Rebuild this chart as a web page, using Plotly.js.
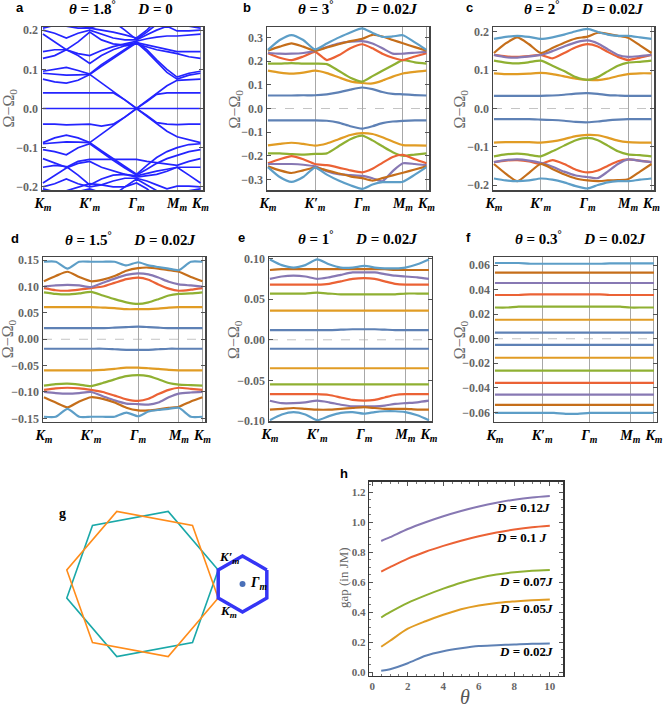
<!DOCTYPE html>
<html><head><meta charset="utf-8">
<script src="https://cdn.plot.ly/plotly-3.0.1.min.js"></script>
<style>html,body{margin:0;padding:0;background:#fff}#chart{width:669px;height:709px}</style>
</head><body><div id="chart"></div>
<script>
const W = 669, H = 709;

// ---------- k-path (Km -> K'm -> Γm -> Mm -> Km) ----------
const kPath = [0,0.25,0.5,0.75,1,1.25,1.5,1.75,2,2.22,2.43,2.65,2.866,3.12,3.366];
const kTickVals = [0,1,2,2.866,3.366];
const kTickText = ['<b><i>K<sub>m</sub></i></b>','<b><i>K′<sub>m</sub></i></b>','<b><i>Γ<sub>m</sub></i></b>','<b><i>M<sub>m</sub></i></b>','<b><i>K<sub>m</sub></i></b>'];

// ---------- panel a : θ = 1.8°, D = 0 ----------
const a_p0 = [0,0,0,0,0,0,0,0,0,0,0,0,0,0,0];
const a_p1 = [0.040,0.040,0.040,0.040,0.040,0.040,0.040,0.022,0.000,0.018,0.036,0.040,0.040,0.040,0.040];
const a_p2 = [0.075,0.068,0.065,0.072,0.087,0.066,0.044,0.022,0.000,0.020,0.040,0.058,0.072,0.074,0.075];
const a_p3 = [0.090,0.087,0.085,0.086,0.087,0.108,0.128,0.150,0.168,0.145,0.118,0.092,0.075,0.085,0.090];
const a_p4 = [0.095,0.100,0.105,0.097,0.088,0.112,0.132,0.152,0.170,0.150,0.124,0.100,0.080,0.090,0.095];
const a_p5 = [0.128,0.135,0.150,0.135,0.115,0.135,0.150,0.160,0.165,0.158,0.150,0.145,0.140,0.132,0.128];
const a_p6 = [0.145,0.150,0.150,0.170,0.195,0.175,0.165,0.162,0.168,0.162,0.155,0.150,0.145,0.145,0.145];
const a_p7 = [0.190,0.170,0.150,0.140,0.135,0.148,0.158,0.165,0.172,0.178,0.182,0.185,0.185,0.188,0.190];
const a_p8 = [0.200,0.192,0.180,0.192,0.200,0.190,0.180,0.175,0.175,0.188,0.200,0.210,0.198,0.198,0.200];
const a_p9 = [0.205,0.212,0.220,0.212,0.205,0.215,0.222,0.200,0.176,0.195,0.215,0.232,0.215,0.210,0.205];
const a_p10 = [0.230,0.225,0.210,0.205,0.205,0.200,0.195,0.188,0.180,0.200,0.225,0.240,0.230,0.230,0.230];
const a_n1 = [-0.040,-0.040,-0.042,-0.041,-0.040,-0.045,-0.040,-0.022,0.000,-0.018,-0.036,-0.040,-0.041,-0.040,-0.040];
const a_n2 = [-0.087,-0.075,-0.068,-0.075,-0.087,-0.066,-0.044,-0.022,0.000,-0.020,-0.040,-0.058,-0.072,-0.080,-0.087];
const a_n3 = [-0.090,-0.088,-0.085,-0.086,-0.087,-0.108,-0.128,-0.150,-0.168,-0.145,-0.125,-0.110,-0.100,-0.092,-0.090];
const a_n4 = [-0.105,-0.110,-0.118,-0.100,-0.090,-0.112,-0.132,-0.152,-0.170,-0.155,-0.140,-0.128,-0.120,-0.110,-0.105];
const a_n5 = [-0.128,-0.138,-0.150,-0.135,-0.130,-0.130,-0.130,-0.130,-0.130,-0.135,-0.138,-0.142,-0.145,-0.135,-0.128];
const a_n6 = [-0.150,-0.145,-0.148,-0.170,-0.195,-0.180,-0.170,-0.168,-0.172,-0.165,-0.160,-0.155,-0.150,-0.150,-0.150];
const a_n7 = [-0.190,-0.172,-0.152,-0.140,-0.135,-0.150,-0.160,-0.168,-0.175,-0.172,-0.168,-0.160,-0.150,-0.170,-0.190];
const a_n8 = [-0.200,-0.192,-0.180,-0.192,-0.200,-0.195,-0.185,-0.178,-0.178,-0.185,-0.195,-0.205,-0.198,-0.198,-0.200];
const a_n9 = [-0.205,-0.212,-0.220,-0.212,-0.205,-0.215,-0.222,-0.200,-0.180,-0.195,-0.210,-0.225,-0.215,-0.210,-0.205];
const a_n10 = [-0.230,-0.225,-0.210,-0.200,-0.192,-0.195,-0.200,-0.200,-0.190,-0.205,-0.225,-0.240,-0.230,-0.230,-0.230];

// ---------- panel b : θ = 3°, D = 0.02J ----------
const b_blue_p = [0.055,0.055,0.055,0.056,0.056,0.060,0.068,0.080,0.089,0.082,0.070,0.062,0.060,0.057,0.055];
const b_blue_n = [-0.050,-0.050,-0.050,-0.050,-0.050,-0.052,-0.060,-0.075,-0.085,-0.075,-0.062,-0.055,-0.052,-0.050,-0.050];
const b_orange_p = [0.160,0.152,0.148,0.152,0.160,0.150,0.132,0.115,0.108,0.106,0.118,0.135,0.148,0.155,0.160];
const b_orange_n = [-0.156,-0.150,-0.145,-0.150,-0.157,-0.148,-0.130,-0.112,-0.104,-0.108,-0.122,-0.140,-0.155,-0.156,-0.157];
const b_green_p = [0.190,0.190,0.192,0.190,0.190,0.188,0.160,0.130,0.114,0.137,0.160,0.183,0.205,0.195,0.190];
const b_green_n = [-0.190,-0.190,-0.193,-0.195,-0.192,-0.190,-0.160,-0.130,-0.115,-0.135,-0.160,-0.185,-0.200,-0.195,-0.190];
const b_red_p = [0.234,0.215,0.205,0.220,0.240,0.205,0.225,0.255,0.272,0.255,0.232,0.215,0.205,0.220,0.234];
const b_red_n = [-0.232,-0.215,-0.202,-0.215,-0.235,-0.240,-0.250,-0.262,-0.270,-0.255,-0.230,-0.205,-0.196,-0.215,-0.232];
const b_purple_p = [0.235,0.232,0.232,0.235,0.244,0.260,0.275,0.283,0.285,0.275,0.255,0.232,0.232,0.236,0.240];
const b_purple_n = [-0.235,-0.235,-0.235,-0.238,-0.245,-0.265,-0.278,-0.282,-0.285,-0.295,-0.308,-0.265,-0.232,-0.235,-0.240];
const b_brown_p = [0.245,0.262,0.276,0.262,0.245,0.258,0.272,0.285,0.295,0.312,0.305,0.290,0.276,0.260,0.245];
const b_brown_n = [-0.245,-0.262,-0.273,-0.262,-0.250,-0.262,-0.275,-0.287,-0.295,-0.305,-0.295,-0.283,-0.272,-0.258,-0.245];
const b_lb_p = [0.248,0.290,0.311,0.290,0.250,0.275,0.300,0.322,0.339,0.320,0.303,0.305,0.310,0.280,0.248];
const b_lb_n = [-0.248,-0.290,-0.311,-0.290,-0.250,-0.280,-0.305,-0.325,-0.340,-0.322,-0.312,-0.312,-0.310,-0.280,-0.248];

// ---------- panel c : θ = 2°, D = 0.02J ----------
const c_blue_p = [0.033,0.033,0.033,0.033,0.033,0.034,0.036,0.039,0.040,0.038,0.035,0.034,0.033,0.033,0.033];
const c_blue_n = [-0.028,-0.028,-0.028,-0.028,-0.029,-0.030,-0.032,-0.035,-0.036,-0.034,-0.031,-0.029,-0.028,-0.028,-0.028];
const c_orange_p = [0.092,0.090,0.090,0.091,0.093,0.090,0.084,0.078,0.075,0.074,0.078,0.085,0.090,0.092,0.092];
const c_orange_n = [-0.089,-0.088,-0.088,-0.088,-0.089,-0.086,-0.080,-0.072,-0.069,-0.070,-0.076,-0.084,-0.088,-0.089,-0.089];
const c_green_p = [0.125,0.120,0.118,0.121,0.125,0.112,0.098,0.082,0.075,0.082,0.097,0.112,0.120,0.122,0.125];
const c_green_n = [-0.125,-0.120,-0.118,-0.121,-0.125,-0.112,-0.097,-0.083,-0.077,-0.083,-0.097,-0.112,-0.120,-0.122,-0.125];
const c_red_p = [0.140,0.136,0.135,0.137,0.140,0.131,0.145,0.160,0.168,0.162,0.148,0.135,0.127,0.133,0.140];
const c_red_n = [-0.140,-0.136,-0.135,-0.138,-0.145,-0.135,-0.145,-0.160,-0.167,-0.162,-0.150,-0.138,-0.133,-0.136,-0.140];
const c_purple_p = [0.140,0.134,0.133,0.136,0.140,0.150,0.162,0.173,0.178,0.170,0.155,0.140,0.135,0.137,0.140];
const c_purple_n = [-0.140,-0.135,-0.133,-0.136,-0.142,-0.152,-0.165,-0.175,-0.179,-0.182,-0.165,-0.145,-0.133,-0.137,-0.140];
const c_brown_p = [0.145,0.170,0.186,0.168,0.145,0.158,0.172,0.183,0.188,0.198,0.195,0.190,0.185,0.165,0.145];
const c_brown_n = [-0.145,-0.170,-0.190,-0.168,-0.145,-0.158,-0.172,-0.183,-0.188,-0.190,-0.188,-0.187,-0.185,-0.165,-0.145];
const c_lb_p = [0.182,0.187,0.190,0.187,0.182,0.186,0.193,0.202,0.208,0.200,0.193,0.190,0.190,0.186,0.182];
const c_lb_n = [-0.183,-0.188,-0.190,-0.188,-0.183,-0.186,-0.193,-0.203,-0.209,-0.200,-0.193,-0.190,-0.190,-0.186,-0.183];

// ---------- panel d : θ = 1.5°, D = 0.02J ----------
const d_blue_p = [0.021,0.021,0.021,0.021,0.021,0.021,0.022,0.023,0.024,0.023,0.022,0.021,0.021,0.021,0.021];
const d_blue_n = [-0.018,-0.018,-0.018,-0.018,-0.018,-0.018,-0.019,-0.020,-0.020,-0.020,-0.019,-0.018,-0.018,-0.018,-0.018];
const d_orange_p = [0.061,0.061,0.061,0.061,0.061,0.060,0.059,0.057,0.057,0.057,0.058,0.060,0.061,0.061,0.061];
const d_orange_n = [-0.059,-0.059,-0.059,-0.059,-0.059,-0.058,-0.056,-0.054,-0.054,-0.055,-0.056,-0.058,-0.059,-0.059,-0.059];
const d_green_p = [0.089,0.086,0.085,0.087,0.090,0.083,0.076,0.070,0.067,0.070,0.076,0.083,0.086,0.087,0.089];
const d_green_n = [-0.088,-0.085,-0.084,-0.086,-0.089,-0.083,-0.076,-0.070,-0.068,-0.070,-0.076,-0.083,-0.086,-0.087,-0.088];
const d_red_p = [0.097,0.093,0.092,0.094,0.097,0.100,0.107,0.114,0.117,0.113,0.104,0.096,0.092,0.094,0.097];
const d_red_n = [-0.096,-0.093,-0.092,-0.093,-0.096,-0.100,-0.107,-0.114,-0.117,-0.113,-0.104,-0.096,-0.092,-0.094,-0.096];
const d_purple_p = [0.100,0.102,0.103,0.102,0.099,0.107,0.115,0.122,0.125,0.123,0.117,0.109,0.104,0.102,0.100];
const d_purple_n = [-0.100,-0.102,-0.103,-0.102,-0.100,-0.108,-0.116,-0.122,-0.123,-0.124,-0.120,-0.110,-0.103,-0.101,-0.100];
const d_brown_p = [0.110,0.120,0.128,0.118,0.110,0.113,0.120,0.130,0.135,0.136,0.134,0.131,0.128,0.118,0.110];
const d_brown_n = [-0.110,-0.120,-0.129,-0.118,-0.110,-0.113,-0.120,-0.130,-0.135,-0.135,-0.133,-0.130,-0.128,-0.118,-0.110];
const d_lb_p = [0.147,0.147,0.134,0.147,0.147,0.147,0.147,0.140,0.146,0.140,0.137,0.134,0.131,0.147,0.147];
const d_lb_n = [-0.147,-0.147,-0.132,-0.147,-0.147,-0.147,-0.147,-0.139,-0.146,-0.137,-0.134,-0.132,-0.130,-0.147,-0.147];

// ---------- panel e : θ = 1°, D = 0.02J ----------
const e_blue_p = [0.012,0.012,0.012,0.012,0.012,0.012,0.0125,0.013,0.013,0.013,0.0125,0.012,0.012,0.012,0.012];
const e_blue_n = [-0.011,-0.011,-0.011,-0.011,-0.011,-0.011,-0.011,-0.011,-0.011,-0.011,-0.011,-0.011,-0.011,-0.011,-0.011];
const e_orange_p = [0.036,0.036,0.036,0.036,0.036,0.036,0.036,0.036,0.036,0.036,0.036,0.036,0.036,0.036,0.036];
const e_orange_n = [-0.035,-0.035,-0.035,-0.035,-0.035,-0.035,-0.035,-0.035,-0.035,-0.035,-0.035,-0.035,-0.035,-0.035,-0.035];
const e_green_p = [0.057,0.057,0.057,0.057,0.058,0.057,0.056,0.056,0.056,0.056,0.056,0.056,0.057,0.057,0.057];
const e_green_n = [-0.055,-0.055,-0.055,-0.055,-0.055,-0.055,-0.055,-0.055,-0.055,-0.055,-0.055,-0.055,-0.055,-0.055,-0.055];
const e_red_p = [0.068,0.068,0.068,0.068,0.068,0.069,0.072,0.075,0.076,0.075,0.072,0.069,0.068,0.068,0.068];
const e_red_n = [-0.067,-0.067,-0.067,-0.067,-0.067,-0.068,-0.071,-0.074,-0.075,-0.074,-0.071,-0.068,-0.067,-0.067,-0.067];
const e_purple_p = [0.075,0.078,0.079,0.078,0.075,0.077,0.080,0.083,0.083,0.083,0.081,0.079,0.078,0.077,0.075];
const e_purple_n = [-0.075,-0.078,-0.078,-0.077,-0.075,-0.077,-0.080,-0.082,-0.082,-0.082,-0.081,-0.079,-0.078,-0.077,-0.075];
const e_brown_p = [0.086,0.087,0.087,0.087,0.087,0.087,0.087,0.087,0.087,0.087,0.087,0.086,0.086,0.086,0.086];
const e_brown_n = [-0.086,-0.085,-0.084,-0.085,-0.086,-0.086,-0.085,-0.084,-0.083,-0.084,-0.085,-0.085,-0.085,-0.086,-0.086];
const e_lb_p = [0.099,0.092,0.089,0.092,0.099,0.093,0.089,0.089,0.091,0.089,0.088,0.088,0.089,0.093,0.099];
const e_lb_n = [-0.099,-0.092,-0.089,-0.092,-0.099,-0.094,-0.090,-0.089,-0.091,-0.089,-0.088,-0.088,-0.089,-0.093,-0.099];

// ---------- panel f : θ = 0.3°, D = 0.02J ----------
const f_blue_p = [0.005,0.005,0.005,0.005,0.005,0.005,0.005,0.005,0.005,0.005,0.005,0.005,0.005,0.005,0.005];
const f_blue_n = [-0.005,-0.005,-0.005,-0.005,-0.005,-0.005,-0.005,-0.005,-0.005,-0.005,-0.005,-0.005,-0.005,-0.005,-0.005];
const f_orange_p = [0.0155,0.0155,0.0155,0.0155,0.0155,0.0155,0.0155,0.0155,0.0155,0.0155,0.0155,0.0155,0.0155,0.0155,0.0155];
const f_orange_n = [-0.0155,-0.0155,-0.0155,-0.0155,-0.0155,-0.0155,-0.0155,-0.0155,-0.0155,-0.0155,-0.0155,-0.0155,-0.0155,-0.0155,-0.0155];
const f_green_p = [0.0255,0.0255,0.0262,0.0262,0.0262,0.0262,0.0262,0.0262,0.0262,0.0262,0.0262,0.0262,0.0255,0.0255,0.0255];
const f_green_n = [-0.026,-0.026,-0.026,-0.026,-0.026,-0.026,-0.026,-0.026,-0.026,-0.026,-0.026,-0.026,-0.026,-0.026,-0.026];
const f_red_p = [0.0357,0.0357,0.0357,0.0362,0.0362,0.0362,0.0362,0.0362,0.0362,0.0362,0.0357,0.0357,0.0357,0.0357,0.0357];
const f_red_n = [-0.036,-0.036,-0.036,-0.036,-0.036,-0.036,-0.036,-0.036,-0.036,-0.036,-0.036,-0.036,-0.036,-0.036,-0.036];
const f_purple_p = [0.0455,0.0455,0.0455,0.0455,0.0455,0.0455,0.0455,0.0455,0.0455,0.0455,0.0455,0.0455,0.0455,0.0455,0.0455];
const f_purple_n = [-0.0455,-0.0455,-0.0455,-0.0455,-0.0455,-0.0455,-0.0455,-0.0455,-0.0455,-0.0455,-0.0455,-0.0455,-0.0455,-0.0455,-0.0455];
const f_brown_p = [0.054,0.054,0.054,0.054,0.054,0.054,0.054,0.054,0.054,0.054,0.054,0.054,0.054,0.054,0.054];
const f_brown_n = [-0.054,-0.054,-0.054,-0.054,-0.054,-0.054,-0.054,-0.054,-0.054,-0.054,-0.054,-0.054,-0.054,-0.054,-0.054];
const f_lb_p = [0.0618,0.0618,0.0618,0.0612,0.0612,0.0612,0.0612,0.0612,0.0612,0.0612,0.0615,0.0615,0.0615,0.0615,0.0615];
const f_lb_n = [-0.0605,-0.0605,-0.0605,-0.0605,-0.0605,-0.0605,-0.0612,-0.0612,-0.0605,-0.0605,-0.0605,-0.0605,-0.0605,-0.0605,-0.0605];

// ---------- panel h : gap vs θ ----------
const hTheta = [0.5,1,2,3,4,5,6,7,8,9,10];
const gap_D002 = [0.010,0.020,0.060,0.110,0.140,0.160,0.175,0.180,0.185,0.190,0.192];
const gap_D005 = [0.170,0.210,0.290,0.340,0.383,0.420,0.445,0.462,0.472,0.480,0.485];
const gap_D007 = [0.365,0.400,0.462,0.512,0.557,0.597,0.628,0.651,0.666,0.676,0.681];
const gap_D010 = [0.670,0.700,0.757,0.803,0.842,0.877,0.907,0.932,0.951,0.966,0.976];
const gap_D012 = [0.875,0.900,0.955,1.000,1.040,1.075,1.105,1.130,1.150,1.165,1.175];
const hLabels = ['<b><i>D</i> = 0.12<i>J</i></b>','<b><i>D</i> = 0.1 <i>J</i></b>','<b><i>D</i> = 0.07<i>J</i></b>','<b><i>D</i> = 0.05<i>J</i></b>','<b><i>D</i> = 0.02<i>J</i></b>'];

// ---------- panel g : geometry parameters ----------
const gTwistDeg = 21;      // relative twist of the two hexagons
const gOuterRadius = 1;    // atomic BZ corner distance

// ---------- texts ----------
const panelTitles = [
  '<b><i>θ</i> = 1.8<sup>°</sup>\u2003\u2002<i>D</i> = 0</b>',
  '<b><i>θ</i> = 3<sup>°</sup>\u2003\u2002<i>D</i> = 0.02<i>J</i></b>',
  '<b><i>θ</i> = 2<sup>°</sup>\u2003\u2002<i>D</i> = 0.02<i>J</i></b>',
  '<b><i>θ</i> = 1.5<sup>°</sup>\u2003\u2002<i>D</i> = 0.02<i>J</i></b>',
  '<b><i>θ</i> = 1<sup>°</sup>\u2003\u2002<i>D</i> = 0.02<i>J</i></b>',
  '<b><i>θ</i> = 0.3<sup>°</sup>\u2003\u2002<i>D</i> = 0.02<i>J</i></b>'
];
const panelLetters = ['a','b','c','d','e','f'];

const bandColors = ['#5E81B5','#E19C24','#8FB032','#EB6235','#8778B3','#C56E1A','#5D9EC7'];

// ---------- layout helpers ----------
function xd(p0,p1){return [p0/W, p1/W];}
function yd(top,bot){return [1-bot/H, 1-top/H];}
function px(x){return x/W;}
function py(y){return 1-y/H;}

const serif = 'Liberation Serif, Times New Roman, serif';
const sans = 'Liberation Sans, Arial, sans-serif';

const panels = [
  {x:[42,203], y:[27,190], yr:[-0.208,0.208], yt:[-0.2,-0.1,0,0.1,0.2], fmt:'.1f', mono:true,
   bands:[a_p0,a_p1,a_p2,a_p3,a_p4,a_p5,a_p6,a_p7,a_p8,a_p9,a_p10,a_n1,a_n2,a_n3,a_n4,a_n5,a_n6,a_n7,a_n8,a_n9,a_n10],
   title:[121,8], letter:[20,8], ylab:9},
  {x:[267,429], y:[27,190], yr:[-0.345,0.345], yt:[-0.3,-0.2,-0.1,0,0.1,0.2,0.3], fmt:'.1f',
   bands:[b_blue_p,b_blue_n,b_orange_p,b_orange_n,b_green_p,b_green_n,b_red_p,b_red_n,b_purple_p,b_purple_n,b_brown_p,b_brown_n,b_lb_p,b_lb_n],
   title:[357,8], letter:[247,8], ylab:235},
  {x:[493,654], y:[27,190], yr:[-0.213,0.213], yt:[-0.2,-0.1,0,0.1,0.2], fmt:'.1f',
   bands:[c_blue_p,c_blue_n,c_orange_p,c_orange_n,c_green_p,c_green_n,c_red_p,c_red_n,c_purple_p,c_purple_n,c_brown_p,c_brown_n,c_lb_p,c_lb_n],
   title:[583,8], letter:[469,8], ylab:460},
  {x:[43,205], y:[257,421.5], yr:[-0.156,0.156], yt:[-0.15,-0.1,-0.05,0,0.05,0.1,0.15], fmt:'.2f',
   bands:[d_blue_p,d_blue_n,d_orange_p,d_orange_n,d_green_p,d_green_n,d_red_p,d_red_n,d_purple_p,d_purple_n,d_brown_p,d_brown_n,d_lb_p,d_lb_n],
   title:[130,239], letter:[15,239], ylab:8},
  {x:[269,431.5], y:[257,421], yr:[-0.1,0.102], yt:[-0.1,-0.05,0,0.05,0.1], fmt:'.2f',
   bands:[e_blue_p,e_blue_n,e_orange_p,e_orange_n,e_green_p,e_green_n,e_red_p,e_red_n,e_purple_p,e_purple_n,e_brown_p,e_brown_n,e_lb_p,e_lb_n],
   title:[357,238], letter:[241,238], ylab:235},
  {x:[494,656.5], y:[257,421.5], yr:[-0.0675,0.0667], yt:[-0.06,-0.04,-0.02,0,0.02,0.04,0.06], fmt:'.2f',
   bands:[f_blue_p,f_blue_n,f_orange_p,f_orange_n,f_green_p,f_green_n,f_red_p,f_red_n,f_purple_p,f_purple_n,f_brown_p,f_brown_n,f_lb_p,f_lb_n],
   title:[580,238], letter:[468,238], ylab:460}
];

const traces = [];
const layout = {
  width: W, height: H, margin:{l:0,r:0,t:0,b:0},
  paper_bgcolor:'#fff', plot_bgcolor:'#fff', showlegend:false,
  annotations:[], shapes:[]
};

panels.forEach((p,i)=>{
  const n = i+1;
  const xa = n===1?'x':'x'+n, ya = n===1?'y':'y'+n;
  p.bands.forEach((b,j)=>{
    const col = p.mono ? '#2424ff' : bandColors[Math.floor(j/2)];
    traces.push({type:'scatter', mode:'lines', x:kPath, y:b, xaxis:xa, yaxis:ya,
      line:{color:col, width:p.mono?1.7:2.2, shape:p.mono?'linear':'spline', smoothing:0.6}, hoverinfo:'skip'});
  });
  layout['xaxis'+(n===1?'':n)] = {
    domain:xd(p.x[0],p.x[1]), range:[-0.02,3.42], tickvals:kTickVals, ticktext:kTickText,
    showgrid:true, gridcolor:'#a8a8a8', gridwidth:1, zeroline:false,
    showline:true, mirror:true, linecolor:'#444', linewidth:1.5, ticks:'',
    tickfont:{family:serif, size:14, color:'#000'}, fixedrange:true, anchor:ya
  };
  layout['yaxis'+(n===1?'':n)] = {
    domain:yd(p.y[0],p.y[1]), range:p.yr, tickvals:p.yt, tickformat:p.fmt,
    showgrid:false, zeroline:false, showline:true, mirror:'allticks', linecolor:'#444', linewidth:1.5,
    ticks:'inside', ticklen:4, tickcolor:'#555',
    tickfont:{family:serif, size:12, color:'#666', weight:'bold'}, fixedrange:true, anchor:xa
  };
  if(!p.mono){
    layout.shapes.push({type:'line', xref:xa+' domain', yref:ya, x0:0, x1:1, y0:0, y1:0,
      line:{color:'#c4c4c4', width:1, dash:'dash'}, layer:'below'});
  }
  layout.annotations.push({xref:'paper', yref:'paper', x:px(p.title[0]), y:py(p.title[1]),
    text:panelTitles[i], showarrow:false, xanchor:'center', yanchor:'middle',
    font:{family:serif, size:15, color:'#000'}});
  layout.annotations.push({xref:'paper', yref:'paper', x:px(p.letter[0]), y:py(p.letter[1]),
    text:'<b>'+panelLetters[i]+'</b>', showarrow:false, xanchor:'center', yanchor:'middle',
    font:{family:sans, size:13, color:'#000'}});
  layout.annotations.push({xref:'paper', yref:'paper', x:px(p.ylab), y:py((p.y[0]+p.y[1])/2),
    text:'Ω−Ω<sub>0</sub>', textangle:-90, showarrow:false, xanchor:'center', yanchor:'middle',
    font:{family:serif, size:16, color:'#6a6a6a'}});
});

// ---------- panel h ----------
const hSeries = [gap_D002, gap_D005, gap_D007, gap_D010, gap_D012];
hSeries.forEach((s,i)=>{
  traces.push({type:'scatter', mode:'lines', x:hTheta, y:s, xaxis:'x7', yaxis:'y7',
    line:{color:bandColors[i], width:2, shape:'spline', smoothing:0.8}, hoverinfo:'skip'});
});
layout.xaxis7 = {domain:xd(369.3,563.3), range:[-0.17,10.76], tickvals:[0,2,4,6,8,10],
  showgrid:false, zeroline:false, showline:true, mirror:'allticks', linecolor:'#333', linewidth:1.5,
  ticks:'inside', ticklen:4, tickcolor:'#555', minor:{ticks:'inside', ticklen:2, dtick:0.5, tickcolor:'#777'},
  tickfont:{family:serif, size:11, color:'#666', weight:'bold'}, fixedrange:true, anchor:'y7'};
layout.yaxis7 = {domain:yd(481.7,675.7), range:[-0.023,1.27], tickvals:[0,0.2,0.4,0.6,0.8,1.0,1.2], tickformat:'.1f',
  showgrid:false, zeroline:false, showline:true, mirror:'allticks', linecolor:'#333', linewidth:1.5,
  ticks:'inside', ticklen:4, tickcolor:'#555', minor:{ticks:'inside', ticklen:2, dtick:0.05, tickcolor:'#777'},
  tickfont:{family:serif, size:11, color:'#666', weight:'bold'}, fixedrange:true, anchor:'x7'};
const hLabelPos = [[8.48,1.095],[8.40,0.897],[8.64,0.604],[8.64,0.422],[8.64,0.137]];
hLabels.forEach((t,i)=>{
  layout.annotations.push({xref:'x7', yref:'y7', x:hLabelPos[i][0], y:hLabelPos[i][1], text:t,
    showarrow:false, xanchor:'center', yanchor:'middle', font:{family:serif, size:13, color:'#000'}});
});
layout.annotations.push({xref:'paper', yref:'paper', x:px(343), y:py(578), text:'gap (in JM)', textangle:-90,
  showarrow:false, xanchor:'center', yanchor:'middle', font:{family:serif, size:13, color:'#666'}});
layout.annotations.push({xref:'paper', yref:'paper', x:px(465), y:py(697), text:'<i>θ</i>',
  showarrow:false, xanchor:'center', yanchor:'middle', font:{family:serif, size:20, color:'#555'}});
layout.annotations.push({xref:'paper', yref:'paper', x:px(344), y:py(473), text:'<b>h</b>',
  showarrow:false, xanchor:'center', yanchor:'middle', font:{family:sans, size:13, color:'#000'}});

// ---------- panel g ----------
function hexagon(cx, cy, r, rotDeg){
  const xs=[], ys=[];
  for(let k=0;k<=6;k++){
    const a=(rotDeg+60*k)*Math.PI/180;
    xs.push(cx + r*Math.cos(a)); ys.push(cy + r*Math.sin(a));
  }
  return {xs, ys};
}
const half = gTwistDeg/2;
const hexTeal = hexagon(0,0,gOuterRadius, half);
const hexOrange = hexagon(0,0,gOuterRadius, -half);
const smallR = 2*gOuterRadius*Math.sin(half*Math.PI/180);
const smallCx = gOuterRadius*Math.cos(half*Math.PI/180) + smallR*Math.cos(Math.PI/6);
const hexBlue = hexagon(smallCx, 0, smallR, 30);
traces.push({type:'scatter', mode:'lines', x:hexTeal.xs, y:hexTeal.ys, xaxis:'x8', yaxis:'y8',
  line:{color:'#1aa8a8', width:1.6}, hoverinfo:'skip'});
traces.push({type:'scatter', mode:'lines', x:hexOrange.xs, y:hexOrange.ys, xaxis:'x8', yaxis:'y8',
  line:{color:'#ff8c1a', width:1.6}, hoverinfo:'skip'});
traces.push({type:'scatter', mode:'lines', x:hexBlue.xs, y:hexBlue.ys, xaxis:'x8', yaxis:'y8',
  line:{color:'#3535f5', width:3.5}, hoverinfo:'skip'});
traces.push({type:'scatter', mode:'markers', x:[smallCx], y:[0], xaxis:'x8', yaxis:'y8',
  marker:{color:'#4a70b8', size:6}, hoverinfo:'skip'});
// g axes: 77 px per unit, centre of large hexagon at (142.5, 584)
layout.xaxis8 = {domain:xd(40,300), range:[(40-142.5)/77,(300-142.5)/77], visible:false, fixedrange:true, anchor:'y8'};
layout.yaxis8 = {domain:yd(480,690), range:[(584-690)/77,(584-480)/77], visible:false, fixedrange:true, anchor:'x8'};
const kpX = hexTeal.xs[0], kpY = hexTeal.ys[0];
const kX = hexOrange.xs[0], kY = hexOrange.ys[0];
layout.annotations.push({xref:'x8', yref:'y8', x:kpX, y:kpY, text:'<b><i>K′<sub>m</sub></i></b>', showarrow:false,
  xanchor:'left', yanchor:'bottom', xshift:-1, yshift:2, font:{family:serif, size:13, color:'#000'}});
layout.annotations.push({xref:'x8', yref:'y8', x:kX, y:kY, text:'<b><i>K<sub>m</sub></i></b>', showarrow:false,
  xanchor:'left', yanchor:'top', xshift:0, yshift:-3, font:{family:serif, size:13, color:'#000'}});
layout.annotations.push({xref:'x8', yref:'y8', x:smallCx, y:0, text:'<b><i>Γ<sub>m</sub></i></b>', showarrow:false,
  xanchor:'left', yanchor:'middle', xshift:5, yshift:1, font:{family:serif, size:14, color:'#000'}});
layout.annotations.push({xref:'paper', yref:'paper', x:px(62), y:py(513), text:'<b>g</b>',
  showarrow:false, xanchor:'center', yanchor:'middle', font:{family:serif, size:14, color:'#000'}});

Plotly.newPlot('chart', traces, layout, {staticPlot:true, displayModeBar:false});
</script>
</body></html>
